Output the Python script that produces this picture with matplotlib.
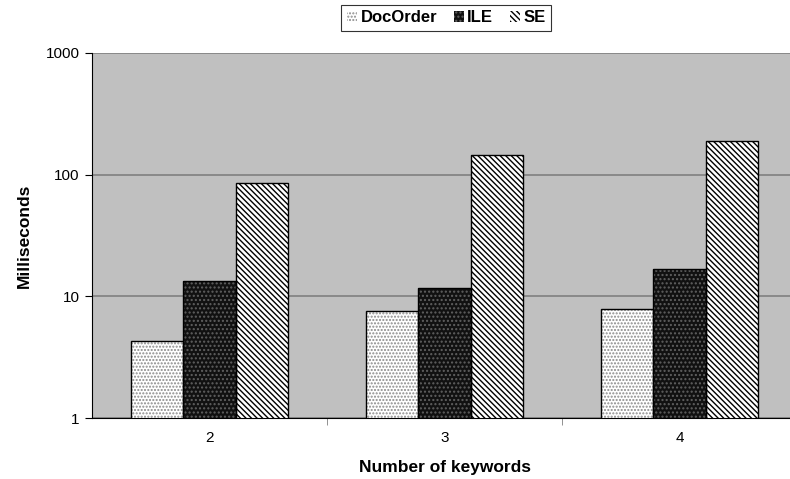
import matplotlib.pyplot as plt
import numpy as np

plt.rcParams['font.family'] = ['Liberation Sans', 'DejaVu Sans']
plt.rcParams['hatch.linewidth'] = 1.0

keywords = ['2', '3', '4']
docorder = [4.3, 7.6, 7.9]
ile = [13.4, 11.7, 16.8]
se = [85, 145, 189]

fig = plt.figure(figsize=(7.9, 4.79), dpi=100)
# right end of the plot runs slightly past the figure edge
ax = fig.add_axes([0.1165, 0.1273, 0.8924, 0.7621])
ax.set_facecolor('#c0c0c0')

x = np.arange(len(keywords))
w = 0.223

# fill + hatch first, then outline on top
series = [
    (docorder, 'DocOrder', 'white', '#8a8a8a', '.....'),
    (ile, 'ILE', '#111111', '#606060', '....'),
    (se, 'SE', 'white', 'black', '\\\\\\\\\\\\'),
]
handles = []
for i, (vals, name, fc, hc, hatch) in enumerate(series):
    pos = x + (i - 1) * w
    ax.bar(pos, vals, w, bottom=0.001, color=fc, edgecolor=hc, hatch=hatch, linewidth=0, zorder=2)
    ax.bar(pos, vals, w, bottom=0.001, fill=False, edgecolor='black', linewidth=1.0, zorder=3)
    h = plt.Rectangle((0, 0), 1, 1, facecolor=fc, edgecolor=hc, hatch=hatch, linewidth=0)
    handles.append(h)

ax.set_yscale('log')
ax.set_ylim(1, 1000)
ax.set_xlim(-0.5, 2.5)
ax.set_yticks([1, 10, 100, 1000])
ax.set_yticklabels(['1', '10', '100', '1000'])
ax.minorticks_off()
ax.yaxis.grid(True, color='#808080', linewidth=1.2, zorder=1)
ax.set_axisbelow(True)

ax.set_xticks(x)
ax.set_xticklabels(keywords)
ax.tick_params(axis='x', length=0, labelsize=11, pad=9)
ax.set_xticks([0.5, 1.5], minor=True)
ax.tick_params(axis='x', which='minor', length=5, color='#808080', direction='out')
ax.tick_params(axis='y', length=5, labelsize=11, direction='out', pad=4)

for s in ['top', 'right']:
    ax.spines[s].set_visible(False)
ax.spines['left'].set_color('black')
ax.spines['bottom'].set_color('black')

ax.set_ylabel('Milliseconds', fontsize=12.5, fontweight='bold', labelpad=10)
ax.set_xlabel('Number of keywords', fontsize=12.5, fontweight='bold', labelpad=11)

leg = fig.legend(handles, ['DocOrder', 'ILE', 'SE'], loc='upper center', bbox_to_anchor=(0.565, 1.008),
                 ncol=3, frameon=True, fancybox=False, edgecolor='black', handlelength=0.6, handleheight=0.6,
                 handletextpad=0.2, columnspacing=1.0, borderpad=0.35, prop={'weight': 'bold', 'size': 12})
leg.get_frame().set_linewidth(0.8)

fig.savefig('out.png', dpi=100)
